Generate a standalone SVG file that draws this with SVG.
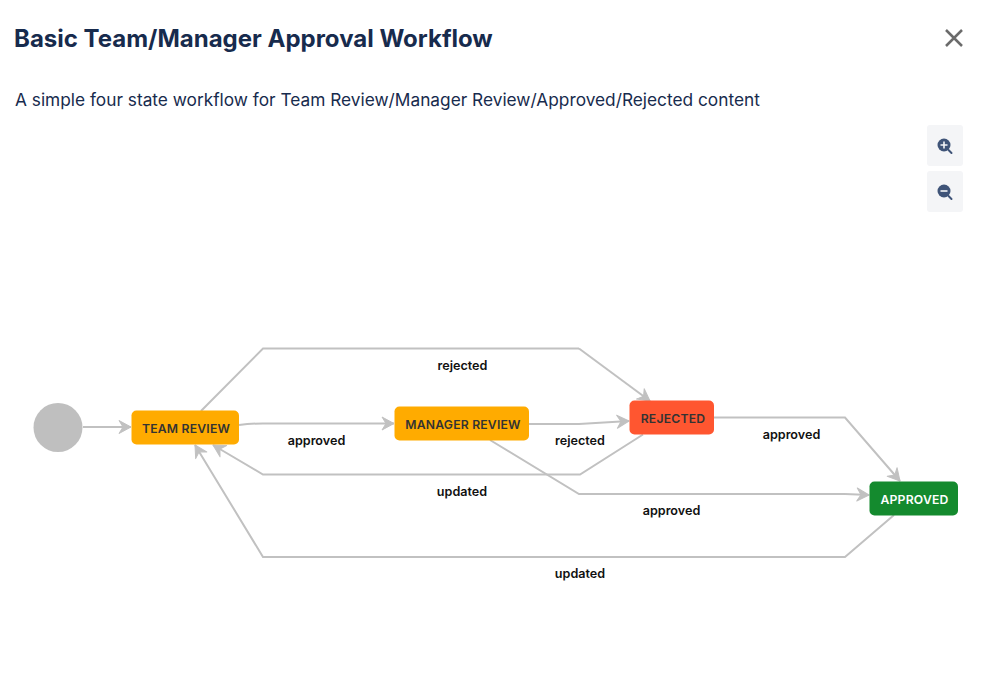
<svg xmlns="http://www.w3.org/2000/svg" width="999" height="680" viewBox="0 0 999 680">
<style>
text{font-family:Inter,"Liberation Sans",sans-serif}
.title{font-size:24px;font-weight:700;fill:#172b4d}
.desc{font-size:17.3px;fill:#172b4d}
.edge{fill:none;stroke:#c1c1c1;stroke-width:2}
.lab{font-size:12.6px;font-weight:600;fill:#111;text-anchor:middle}
.nt{font-size:12.2px;font-weight:600;fill:#333;text-anchor:middle;letter-spacing:.2px}
.btn{fill:#f4f5f7}
.ic{fill:#3f5478}
.ics{stroke:#3f5478;stroke-width:2;stroke-linecap:round;fill:none}
.icw{stroke:#f4f5f7;stroke-width:1.6;fill:none}
</style>
<defs>
<marker id="arr" markerUnits="userSpaceOnUse" markerWidth="20" markerHeight="20" refX="15" refY="10" orient="auto">
<path d="M3 3.500 L15 10 L3 16.500 L7 10 Z" fill="#c1c1c1" stroke="#c1c1c1" stroke-width="1" stroke-linejoin="round"/>
</marker>
</defs>
<rect width="999" height="680" fill="#fff"/>
<text class="title" x="14" y="47">Basic Team/Manager Approval Workflow</text>
<text class="desc" x="15" y="106">A simple four state workflow for Team Review/Manager Review/Approved/Rejected content</text>
<g id="close"><path d="M946 30 L962 46 M962 30 L946 46" stroke="#6b6b6b" stroke-width="2.500" fill="none"/></g>
<g id="zoom-in"><rect class="btn" x="927" y="125" width="36" height="41" rx="3"/><circle class="ic" cx="944" cy="145" r="6.500"/><path class="ics" d="M948.500 150 L951.500 153"/><path class="icw" d="M940.500 145 H947.500 M944 141.500 V148.500"/></g>
<g id="zoom-out"><rect class="btn" x="927" y="171" width="36" height="41" rx="3"/><circle class="ic" cx="944" cy="191" r="6.500"/><path class="ics" d="M948.500 196 L951.500 199"/><path class="icw" d="M940.500 191 H947.500"/></g>
<g id="connectors">
<path class="edge" marker-end="url(#arr)" d="M83 427 H131"/>
<path class="edge" d="M201 411 L263 348.500 H579"/><path class="edge" marker-end="url(#arr)" d="M579 348.500 L650 401"/>
<path class="edge" marker-end="url(#arr)" d="M239 425 Q250 423.500 263 423.500 H394"/>
<path class="edge" marker-end="url(#arr)" d="M529 424 H579 L629 421"/>
<path class="edge" marker-end="url(#arr)" d="M643 434.500 L580 474.500 H263 L213 445"/>
<path class="edge" d="M490 440 L579 494 H845"/><path class="edge" marker-end="url(#arr)" d="M845 494 L869 495"/>
<path class="edge" marker-end="url(#arr)" d="M714 417.500 H845 L900 481"/>
<path class="edge" marker-end="url(#arr)" d="M894 515 L845 557 H263 L195 445"/>
</g>
<g id="start"><circle cx="58" cy="427.500" r="24.500" fill="#bfbfbf"/></g>
<g id="team-review"><rect x="131.500" y="410.500" width="107.500" height="34" rx="5" fill="#ffab00"/><text class="nt" x="186" y="433">TEAM REVIEW</text></g>
<g id="manager-review"><rect x="394.500" y="406.500" width="134.500" height="34" rx="5" fill="#ffab00"/><text class="nt" x="463" y="429">MANAGER REVIEW</text></g>
<g id="rejected"><rect x="629.500" y="400.500" width="84.500" height="34" rx="5" fill="#ff5630"/><text class="nt" x="673" y="423">REJECTED</text></g>
<g id="approved"><rect x="869.500" y="481.500" width="88.500" height="34" rx="5" fill="#148a2e"/><text class="nt" x="914.500" y="503.500" style="fill:#fff">APPROVED</text></g>
<g id="labels">
<text class="lab" x="462.500" y="369.500">rejected</text>
<text class="lab" x="316.500" y="444.500">approved</text>
<text class="lab" x="580" y="444.500">rejected</text>
<text class="lab" x="462" y="495.500">updated</text>
<text class="lab" x="791.500" y="438.500">approved</text>
<text class="lab" x="671.500" y="515">approved</text>
<text class="lab" x="580" y="578">updated</text>
</g>
</svg>
